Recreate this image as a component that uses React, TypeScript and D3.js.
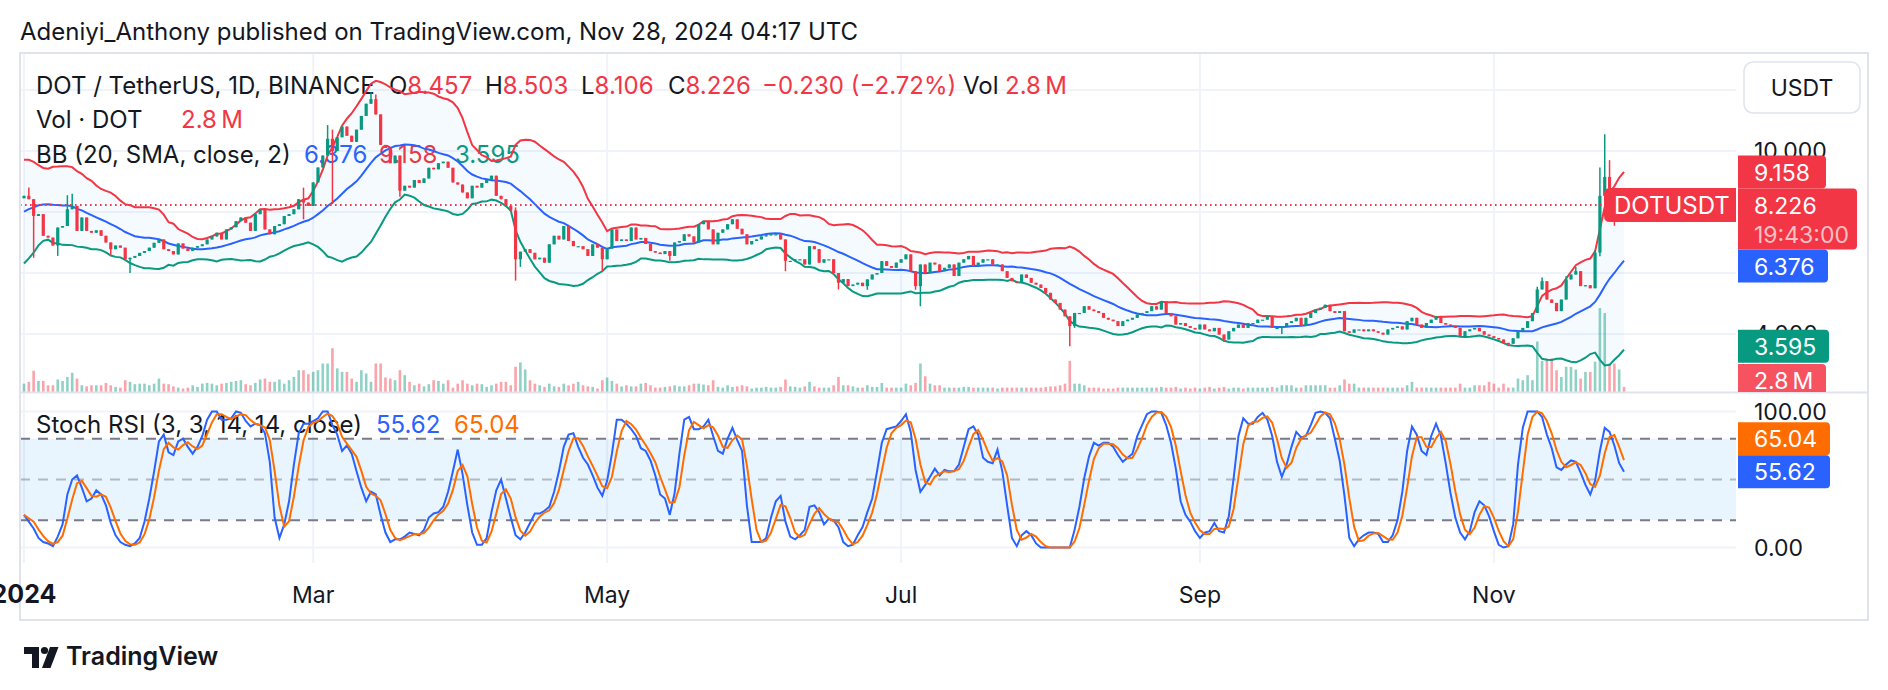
import React from "react";
import * as d3 from "d3";

// Dec 2023 closes, only used to warm up BB(20) for the first visible bars
const decCloses = [6.8, 6.7, 6.6, 6.65, 7.0, 7.35, 7.6, 7.9, 8.1, 8.55, 9.2, 8.8, 9.05, 8.7, 8.9, 8.65, 8.4, 8.35, 8.45];

// daily closes, Jan 1 -> Nov 28 2024 (open = previous close)
const closes = [
  // Jan
  8.53, 8.42, 7.87, 7.93, 7.22, 7.16, 6.90, 7.49, 7.54, 8.09,
  8.20, 7.38, 7.82, 7.38, 7.32, 7.40, 7.22, 7.00, 6.78, 6.90,
  6.83, 6.45, 6.50, 6.56, 6.66, 6.72, 6.83, 6.99, 7.10, 6.78,
  6.72, 6.61, 6.97, 6.80, 6.72, 6.83, 6.88, 6.94, 7.10, 7.20,
  7.32, 7.10, 7.43, 7.50, 7.70, 7.82, 7.65, 7.38, 7.93, 8.09,
  7.43, 7.27, 7.54, 7.60, 7.87, 7.93, 8.09, 8.42, 8.31, 8.20,
  // Mar
  8.97, 9.46, 9.85, 10.40, 10.00, 10.45, 10.80, 10.50, 10.30, 10.70,
  11.15, 11.55, 11.70, 11.20, 10.20, 10.10, 9.60, 9.85, 8.70, 8.86,
  8.80, 9.05, 8.95, 9.10, 9.45, 9.40, 9.60, 9.65, 9.45, 8.97,
  8.90, 8.64, 8.45, 8.86, 8.80, 8.95, 9.05, 9.19, 8.53, 8.42,
  8.20, 8.05, 6.45, 6.70, 6.78, 6.66, 6.45, 6.50, 6.34, 6.94,
  7.22, 7.10, 7.54, 7.05, 6.88, 6.88, 6.78, 6.56, 6.94, 6.83,
  // May
  6.45, 6.80, 7.43, 7.05, 7.10, 7.05, 7.49, 7.10, 7.15, 6.95,
  6.72, 6.67, 6.62, 6.72, 6.56, 7.00, 7.05, 7.27, 7.20, 7.00,
  7.60, 7.71, 7.43, 6.94, 7.32, 7.43, 7.60, 7.76, 7.45, 7.27,
  6.94, 7.05, 7.10, 7.20, 7.24, 7.27, 7.27, 7.10, 6.40, 6.40,
  6.45, 6.45, 6.28, 6.88, 6.78, 6.34, 6.45, 6.45, 6.00, 5.68,
  5.80, 5.57, 5.62, 5.68, 5.57, 5.79, 5.95, 6.00, 6.39, 6.23,
  // Jul
  6.17, 6.34, 6.45, 6.61, 6.06, 5.57, 6.28, 6.00, 6.34, 6.28,
  6.06, 6.17, 6.28, 5.90, 6.34, 6.45, 6.56, 6.23, 6.34, 6.45,
  6.45, 6.28, 6.28, 6.06, 5.84, 5.73, 5.68, 5.95, 5.84, 5.68,
  5.62, 5.51, 5.35, 5.13, 5.02, 4.80, 4.58, 4.26, 4.69, 4.69,
  4.91, 4.80, 4.75, 4.69, 4.53, 4.47, 4.42, 4.26, 4.42, 4.47,
  4.53, 4.64, 4.69, 4.75, 4.91, 4.80, 5.07, 4.69, 4.58, 4.31,
  // Sep
  4.36, 4.26, 4.20, 4.15, 4.31, 4.15, 4.09, 4.20, 3.98, 3.82,
  4.09, 4.20, 4.31, 4.20, 4.36, 4.36, 4.47, 4.47, 4.58, 4.20,
  4.20, 4.25, 4.36, 4.42, 4.53, 4.26, 4.53, 4.69, 4.80, 4.86,
  4.96, 4.75, 4.69, 4.75, 4.09, 4.04, 4.15, 4.15, 4.09, 4.15,
  4.09, 4.04, 3.98, 4.15, 4.20, 4.25, 4.15, 4.42, 4.53, 4.31,
  4.20, 4.36, 4.47, 4.58, 4.36, 4.31, 4.26, 4.20, 3.93, 4.09,
  // Nov
  4.15, 4.20, 4.09, 3.98, 3.93, 3.87, 3.82, 3.71, 3.68, 3.86,
  4.09, 4.20, 4.42, 4.69, 5.46, 5.73, 5.13, 5.02, 4.75, 5.13,
  5.79, 5.95, 6.06, 5.57, 5.60, 5.50, 6.67, 8.53, 9.15, 8.75,
  7.90, 8.457, 8.226,
];

// [day index, high, low] for candles with a visible wick
const wicks: [number, number | null, number | null][] = [
  [1, 8.8, null], [2, null, 6.5], [7, null, 6.56], [9, 8.55, null], [10, 8.6, null],
  [18, null, 6.6], [22, null, 6.0], [58, 8.8, 7.76], [63, 10.85, null], [64, 10.7, 8.26],
  [72, 11.93, null], [73, 11.85, null], [78, null, 8.5], [102, 8.15, 5.75], [103, null, 6.2],
  [120, null, 6.05], [134, null, 6.4], [158, null, 6.06], [169, null, 5.46], [175, null, 5.45],
  [185, null, 5.45], [186, null, 4.91], [217, null, 3.6], [218, null, 4.2], [249, null, 3.75],
  [261, null, 4.0], [308, null, 3.6], [314, 5.55, null], [315, 5.85, null], [320, 5.9, null],
  [322, 6.2, null], [326, 6.75, null], [327, 9.46, 6.55], [328, 10.55, null], [329, 9.7, null],
  [330, null, 7.55], [331, 8.7, null], [332, 8.503, 8.106],
];

// daily volume, millions of DOT
const volumes = [
  4.6, 5.6, 11.7, 6.1, 6.1, 3.7, 3.7, 6.9, 6.1, 8.3,
  10.6, 7.4, 3.7, 3.1, 3.7, 3.7, 3.7, 5.0, 3.7, 2.8,
  2.4, 6.5, 5.6, 4.3, 4.6, 4.6, 3.7, 4.6, 7.4, 4.6,
  4.3, 3.1, 2.4, 1.9, 2.4, 3.7, 2.8, 4.6, 5.0, 4.6,
  3.7, 4.6, 5.0, 5.6, 6.1, 6.5, 4.3, 3.7, 5.0, 6.9,
  7.4, 5.6, 5.6, 6.9, 4.6, 6.5, 8.3, 12.0, 12.0, 9.8,
  11.1, 12.0, 15.7, 15.7, 24.1, 13.0, 11.1, 11.1, 7.4, 5.6,
  12.0, 10.2, 5.6, 15.7, 15.7, 8.0, 7.4, 6.5, 12.0, 9.3,
  5.6, 3.7, 4.6, 3.1, 4.3, 6.5, 6.1, 4.6, 6.5, 2.4,
  4.6, 6.5, 4.6, 3.7, 4.6, 4.3, 2.8, 3.7, 4.6, 5.6,
  5.6, 3.7, 13.9, 16.3, 12.4, 6.5, 4.6, 3.7, 2.8, 4.6,
  3.1, 2.8, 4.6, 3.7, 4.6, 5.6, 3.7, 3.1, 2.8, 1.9,
  6.5, 8.0, 6.1, 4.6, 3.1, 3.7, 3.1, 3.1, 4.6, 5.0,
  3.7, 2.4, 2.4, 2.8, 3.1, 3.7, 3.1, 3.1, 3.7, 4.6,
  4.6, 4.1, 3.7, 6.5, 2.8, 2.4, 3.7, 2.8, 3.1, 3.7,
  3.1, 1.9, 2.4, 2.4, 2.8, 2.4, 2.4, 2.8, 6.9, 3.1,
  2.8, 2.4, 3.1, 5.6, 3.1, 2.4, 2.4, 2.4, 3.7, 8.3,
  3.7, 3.7, 3.1, 2.4, 2.4, 3.7, 2.8, 2.8, 5.0, 2.4,
  2.4, 2.4, 2.4, 4.6, 3.7, 5.0, 15.7, 8.7, 4.6, 3.7,
  3.7, 2.4, 2.4, 2.4, 2.4, 2.8, 2.8, 2.4, 2.4, 2.4,
  2.4, 2.4, 1.9, 2.4, 2.4, 2.4, 2.4, 2.4, 2.4, 2.4,
  2.4, 2.4, 2.8, 3.1, 3.1, 3.7, 4.6, 17.2, 4.6, 4.6,
  3.7, 2.4, 2.4, 2.4, 1.9, 1.9, 1.9, 2.4, 2.4, 2.4,
  2.4, 2.4, 2.4, 2.4, 2.4, 2.4, 2.8, 2.4, 2.4, 2.8,
  1.9, 2.4, 1.9, 2.4, 1.9, 2.4, 2.8, 1.9, 2.4, 2.8,
  1.9, 2.4, 2.4, 1.9, 2.4,
  2.4, 2.4, 2.4, 2.4, 2.8, 2.4, 3.7, 3.7, 3.7, 2.4,
  2.4, 3.7, 3.7, 3.7, 3.7, 3.7, 2.4, 2.4, 3.7, 6.9,
  4.6, 4.6, 2.4, 2.4, 2.4, 2.4, 2.4, 2.4, 2.4, 2.4,
  2.4, 2.4, 3.7, 5.6, 2.4, 2.4, 2.4, 2.4, 2.4, 2.4,
  2.4, 2.4, 2.4, 4.6, 2.4, 2.4, 3.7, 3.7, 3.7, 5.6,
  4.6, 2.4, 4.6, 2.4, 2.4, 7.4, 6.5, 9.3, 6.5, 27.8,
  17.2, 18.5, 18.5, 12.0, 8.3, 13.9, 13.9, 12.4, 7.4, 11.1,
  11.1, 16.7, 46.3, 43.5, 15.7, 15.7, 12.4, 2.8,
];

// Stoch RSI %K, one value per day
const stochK = [
  24, 19, 14, 7, 4, 3, 1, 8, 17, 39,
  50, 53, 44, 34, 36, 42, 39, 31, 18, 9,
  4, 2, 1, 3, 7, 19, 36, 56, 78, 83,
  70, 68, 78, 80, 74, 69, 74, 82, 94, 100,
  100, 94, 94, 95, 100, 99, 93, 89, 91, 90,
  84, 63, 22, 7, 17, 34, 61, 84, 91, 91,
  93, 95, 100, 100, 90, 83, 71, 75, 69, 56,
  44, 34, 41, 39, 24, 11, 4, 6, 6, 8,
  11, 10, 9, 13, 22,
  25, 26, 30, 41, 56, 72, 54, 31, 11, 2,
  2, 7, 26, 42, 50, 36, 22, 9, 6, 11,
  18, 25, 25, 27, 30, 41, 56, 74, 83, 84,
  74, 66, 61, 53, 44, 38, 49, 69, 94, 94,
  91, 87, 82, 73, 71, 64, 53, 39, 36, 24,
  40, 69, 94, 96, 87, 87, 89, 94, 82, 71,
  69, 80, 88, 79, 71, 31, 4, 4, 4, 7,
  22, 34, 38, 19, 8, 6, 9, 13, 30, 31,
  26, 17, 21, 20, 15,
  4, 1, 2, 9, 15, 26, 36, 56, 77, 87,
  88, 89, 93, 98, 85, 57, 41, 46, 52, 58,
  53, 57, 56, 56, 61, 74, 87, 89, 83, 66,
  63, 62, 72, 56, 31, 7, 1, 9, 12, 9,
  3, 0, 0, 0, 0, 0, 0, 0, 13, 30,
  51, 67, 77, 75, 77, 77, 74, 68, 63, 66,
  69, 82, 90, 98, 100, 100, 99, 90, 77, 58,
  34, 24, 19, 12, 7, 11, 12, 18, 12, 11,
  23, 51, 82, 95, 91,
  91, 96, 99, 94, 82, 63, 52, 61, 74, 85,
  81, 82, 90, 99, 100, 99, 95, 80, 64, 38,
  7, 1, 6, 9, 11, 11, 10, 4, 4, 9,
  20, 41, 71, 89, 83, 71, 68, 82, 91, 82,
  62, 40, 22, 11, 6, 12, 26, 34, 31, 23,
  12, 2, 0, 1, 17, 61, 88, 100, 100, 100,
  96, 83, 73, 59, 57, 61, 64, 63, 55, 46,
  39, 49, 71, 88, 85, 75, 62, 55.62,
];

const priceTicks = [4, 6, 8, 10, 12];
const monthTicks = ["2024-01-01", "2024-03-01", "2024-05-01", "2024-07-01", "2024-09-01", "2024-11-01"];
const monthLabels = ["2024", "Mar", "May", "Jul", "Sep", "Nov"];
const stochGrid = [0, 100];
const stochLevels = [80, 50, 20];

const W = 1888;
const H = 690;
const PL = 20; // plot left
const PR = 1736; // plot right
const FR = 1868; // frame right
const MT = 53; // main pane top
const MB = 392; // main pane bottom
const SB = 563; // stoch pane bottom
const FB = 620; // frame bottom

const RED = "#F23645";
const GREEN = "#089981";
const BLUE = "#2962FF";
const ORANGE = "#FF6D00";
const TXT = "#131722";
const GRID = "#f0f3fa";
const BORDER = "#e0e3eb";
const FONT = "Inter, Roboto, sans-serif";
const VOL_TXT = "2.8\u2009M";

// label box with rounded right corners
const rightRounded = (x: number, y: number, w: number, h: number, r: number) =>
  `M${x},${y}H${x + w - r}Q${x + w},${y} ${x + w},${y + r}V${y + h - r}Q${x + w},${y + h} ${x + w - r},${y + h}H${x}Z`;
const leftRounded = (x: number, y: number, w: number, h: number, r: number) =>
  `M${x + w},${y}H${x + r}Q${x},${y} ${x},${y + r}V${y + h - r}Q${x},${y + h} ${x + r},${y + h}H${x + w}Z`;

type Lab = { top: number; h: number };

// push axis labels apart so they don't overlap (first one stays put)
function placeLabels(list: Lab[], maxBottom: number) {
  const placed: Lab[] = [];
  list.forEach((lab, idx) => {
    let top = lab.top;
    if (idx > 0) {
      for (let k = 0; k < 6; k++) {
        let moved = false;
        for (const p of placed) {
          if (top < p.top + p.h && top + lab.h > p.top) {
            top = top + lab.h / 2 < p.top + p.h / 2 ? p.top - lab.h : p.top + p.h;
            moved = true;
          }
        }
        if (!moved) break;
      }
    }
    if (top + lab.h > maxBottom) top = maxBottom - lab.h;
    placed.push({ top, h: lab.h });
  });
  return placed.map((p) => p.top);
}

export default function App() {
  const start = new Date(Date.UTC(2024, 0, 1));
  const dates = closes.map((_, i) => d3.utcDay.offset(start, i));

  const x = d3.scaleUtc().domain([start, dates[dates.length - 1]]).range([24, 1624]);
  const y = d3.scaleLinear().domain([4, 12]).range([334, 90]);
  const yS = d3.scaleLinear().domain([0, 100]).range([547.5, 411.5]);
  const yV = d3.scaleLinear().domain([0, d3.max(volumes) as number]).range([MB, MB - 84]);

  // Bollinger Bands (20, 2) from closes
  const all = decCloses.concat(closes);
  const bb = closes.map((_, i) => {
    const win = all.slice(i, i + 20);
    const m = d3.mean(win) as number;
    const sd = Math.sqrt(d3.mean(win, (v) => (v - m) * (v - m)) as number);
    return { basis: m, upper: m + 2 * sd, lower: m - 2 * sd };
  });

  const wickMap = new Map(wicks.map((w) => [w[0], w]));
  const candles = closes.map((c, i) => {
    const o = i === 0 ? decCloses[decCloses.length - 1] : closes[i - 1];
    const w = wickMap.get(i);
    const hi = Math.max(o, c, w && w[1] != null ? w[1] : -Infinity);
    const lo = Math.min(o, c, w && w[2] != null ? w[2] : Infinity);
    return { date: dates[i], o, c, hi, lo, up: c >= o };
  });

  const stochD = stochK.map((_, i) => d3.mean(stochK.slice(Math.max(0, i - 2), i + 1)) as number);

  const bbLine = (key: "basis" | "upper" | "lower") =>
    d3
      .line<{ basis: number; upper: number; lower: number }>()
      .x((_, i) => x(dates[i]))
      .y((d) => y(d[key]))(bb) as string;
  const bbArea = d3
    .area<{ basis: number; upper: number; lower: number }>()
    .x((_, i) => x(dates[i]))
    .y0((d) => y(d.lower))
    .y1((d) => y(d.upper))(bb) as string;
  const stochLine = (vals: number[]) =>
    d3
      .line<number>()
      .x((_, i) => x(dates[i]))
      .y((v) => yS(v))(vals) as string;

  const lastClose = closes[closes.length - 1];
  const yLast = y(lastClose);

  // right-axis labels, main pane
  const mainTops = placeLabels(
    [
      { top: yLast - 16.5, h: 61 },
      { top: y(9.158) - 16.5, h: 33 },
      { top: y(6.376) - 16.5, h: 33 },
      { top: y(3.595) - 16.5, h: 33 },
      { top: yV(2.8) - 16.5, h: 33 },
    ],
    MB + 5
  );
  const stochTops = placeLabels(
    [
      { top: yS(55.62) - 16.5, h: 33 },
      { top: yS(65.04) - 16.5, h: 33 },
    ],
    SB
  );

  const fs = 23;
  const lg = 24;

  return (
    <div style={{ position: "absolute", left: 0, top: 0 }}>
      <svg width={W} height={H} viewBox={`0 0 ${W} ${H}`} style={{ display: "block", fontFamily: FONT }}>
        <defs>
          <clipPath id="mainClip">
            <rect x={PL} y={MT} width={PR - PL} height={MB - MT} />
          </clipPath>
          <clipPath id="stochClip">
            <rect x={PL} y={MB + 1} width={PR - PL} height={SB - MB - 1} />
          </clipPath>
          <clipPath id="axisClip">
            <rect x={PR} y={MT} width={FR - PR} height={MB - MT} />
          </clipPath>
        </defs>
        <rect x={0} y={0} width={W} height={H} fill="#ffffff" />

        <text x={20} y={40} fontSize={24} fill={TXT}>
          Adeniyi_Anthony published on TradingView.com, Nov 28, 2024 04:17 UTC
        </text>

        {/* grid */}
        {priceTicks.map((t) => (
          <line key={"pg" + t} x1={PL} x2={PR} y1={y(t)} y2={y(t)} stroke={GRID} strokeWidth={2} />
        ))}
        {stochGrid.map((t) => (
          <line key={"sg" + t} x1={PL} x2={PR} y1={yS(t)} y2={yS(t)} stroke={GRID} strokeWidth={2} />
        ))}
        {monthTicks.map((m) => {
          const xx = x(new Date(m + "T00:00:00Z"));
          return <line key={"vg" + m} x1={xx} x2={xx} y1={MT} y2={SB} stroke={GRID} strokeWidth={2} />;
        })}

        {/* legends (drawn under the series) */}
        <g fontSize={lg} fill={TXT}>
          <text x={36} y={94}>DOT / TetherUS, 1D, BINANCE</text>
          <text x={389} y={94}>
            O<tspan fill={RED}>8.457</tspan>
          </text>
          <text x={485} y={94}>
            H<tspan fill={RED}>8.503</tspan>
          </text>
          <text x={581} y={94}>
            L<tspan fill={RED}>8.106</tspan>
          </text>
          <text x={668} y={94}>
            C<tspan fill={RED}>8.226</tspan>
          </text>
          <text x={762} y={94} fill={RED}>
            −0.230 (−2.72%)
          </text>
          <text x={963} y={94}>Vol</text>
          <text x={1005} y={94} fill={RED}>{VOL_TXT}</text>
          <text x={36} y={128}>Vol · DOT</text>
          <text x={181} y={128} fill={RED}>{VOL_TXT}</text>
          <text x={36} y={163}>BB (20, SMA, close, 2)</text>
          <text x={304} y={163} fill={BLUE}>6.376</text>
          <text x={379} y={163} fill={RED}>9.158</text>
          <text x={455} y={163} fill={GREEN}>3.595</text>
          <text x={36} y={433}>Stoch RSI (3, 3, 14, 14, close)</text>
          <text x={376} y={433} fill={BLUE}>55.62</text>
          <text x={454} y={433} fill={ORANGE}>65.04</text>
        </g>

        {/* main pane */}
        <g clipPath="url(#mainClip)">
          <path d={bbArea} fill="rgba(33,150,243,0.05)" />
          {candles.map((d, i) => {
            const h = Math.max(1, MB - yV(volumes[i]));
            return (
              <rect
                key={"v" + i}
                x={x(d.date) - 1.3}
                y={MB - h}
                width={2.6}
                height={h}
                fill={d.up ? "rgba(8,153,129,0.45)" : "rgba(242,54,69,0.45)"}
              />
            );
          })}
          <path d={bbLine("upper")} fill="none" stroke={RED} strokeWidth={2} />
          <path d={bbLine("lower")} fill="none" stroke={GREEN} strokeWidth={2} />
          <path d={bbLine("basis")} fill="none" stroke={BLUE} strokeWidth={2} />
          {candles.map((d, i) => {
            const cx = x(d.date);
            const col = d.up ? GREEN : RED;
            const top = y(Math.max(d.o, d.c));
            const bh = Math.max(1.2, y(Math.min(d.o, d.c)) - top);
            return (
              <g key={"c" + i}>
                <line x1={cx} x2={cx} y1={y(d.hi)} y2={y(d.lo)} stroke={col} strokeWidth={1.5} />
                <rect x={cx - 1.6} y={top} width={3.2} height={bh} fill={col} />
              </g>
            );
          })}
          <line
            x1={PL}
            x2={1604}
            y1={yLast}
            y2={yLast}
            stroke={RED}
            strokeWidth={2}
            strokeDasharray="1.6 3.4"
          />
        </g>

        {/* DOTUSDT tag */}
        <path d={leftRounded(1604, yLast - 17, PR - 1604, 34, 6)} fill={RED} />
        <text x={1614} y={yLast + 8.5} fontSize={24} fill="#ffffff">
          DOTUSDT
        </text>

        {/* stoch pane */}
        <rect
          x={PL}
          y={yS(80)}
          width={PR - PL}
          height={yS(20) - yS(80)}
          fill="rgba(33,150,243,0.1)"
        />
        {stochLevels.map((lv) => (
          <line
            key={"lv" + lv}
            x1={PL}
            x2={PR}
            y1={yS(lv)}
            y2={yS(lv)}
            stroke={lv === 50 ? "rgba(120,123,134,0.5)" : "#787B86"}
            strokeWidth={2}
            strokeDasharray="10 8"
          />
        ))}
        <g clipPath="url(#stochClip)">
          <path d={stochLine(stochK)} fill="none" stroke={BLUE} strokeWidth={2} />
          <path d={stochLine(stochD)} fill="none" stroke={ORANGE} strokeWidth={2} />
        </g>

        {/* frame */}
        <rect x={PL} y={MT} width={FR - PL} height={FB - MT} fill="none" stroke={BORDER} strokeWidth={2} />
        <line x1={PL} x2={FR} y1={MB + 0.5} y2={MB + 0.5} stroke={BORDER} strokeWidth={2} />

        {/* price axis */}
        <g fontSize={fs} fill={TXT}>
          {priceTicks.map((t) => (
            <text key={"pt" + t} x={1754} y={y(t) + 8}>
              {d3.format(".3f")(t)}
            </text>
          ))}
          {stochGrid.map((t) => (
            <text key={"st" + t} x={1754} y={yS(t) + 8}>
              {d3.format(".2f")(t)}
            </text>
          ))}
        </g>
        <rect x={1744} y={62} width={116} height={51} rx={9} fill="#ffffff" stroke={BORDER} strokeWidth={1.5} />
        <text x={1802} y={96} fontSize={fs} fill={TXT} textAnchor="middle">
          USDT
        </text>

        <g clipPath="url(#axisClip)" fontSize={fs} fill="#ffffff">
          <path d={rightRounded(1738, mainTops[4], 88, 33, 4)} fill="#F7525F" />
          <text x={1754} y={mainTops[4] + 25}>{VOL_TXT}</text>
          <path d={rightRounded(1738, mainTops[3], 91, 33, 4)} fill={GREEN} />
          <text x={1754} y={mainTops[3] + 25}>3.595</text>
          <path d={rightRounded(1738, mainTops[2], 90, 33, 4)} fill={BLUE} />
          <text x={1754} y={mainTops[2] + 25}>6.376</text>
          <path d={rightRounded(1738, mainTops[1], 88, 33, 4)} fill={RED} />
          <text x={1754} y={mainTops[1] + 25}>9.158</text>
          <path d={rightRounded(1738, mainTops[0], 119, 61, 4)} fill={RED} />
          <text x={1754} y={mainTops[0] + 25}>{d3.format(".3f")(lastClose)}</text>
          <text x={1754} y={mainTops[0] + 54} fillOpacity={0.7}>
            19:43:00
          </text>
        </g>
        <g fontSize={fs} fill="#ffffff">
          <path d={rightRounded(1738, stochTops[1], 92, 33, 4)} fill={ORANGE} />
          <text x={1754} y={stochTops[1] + 25}>65.04</text>
          <path d={rightRounded(1738, stochTops[0], 92, 33, 4)} fill={BLUE} />
          <text x={1754} y={stochTops[0] + 25}>55.62</text>
        </g>

        {/* time axis */}
        {monthTicks.map((m, i) => (
          <text
            key={"tl" + m}
            x={x(new Date(m + "T00:00:00Z"))}
            y={603}
            fontSize={i === 0 ? 25 : fs}
            fontWeight={i === 0 ? 700 : 400}
            textAnchor="middle"
            fill={TXT}
          >
            {monthLabels[i]}
          </text>
        ))}

        {/* TradingView mark */}
        <g fill={TXT}>
          <path d="M24,647 H39 V668 H32 V654 H24 Z" />
          <circle cx={44.5} cy={650.5} r={3.6} />
          <path d="M50,647 H58.5 L50.5,668 H42 Z" />
        </g>
        <text x={66} y={665} fontSize={25} fontWeight={600} fill={TXT}>
          TradingView
        </text>
      </svg>
    </div>
  );
}
